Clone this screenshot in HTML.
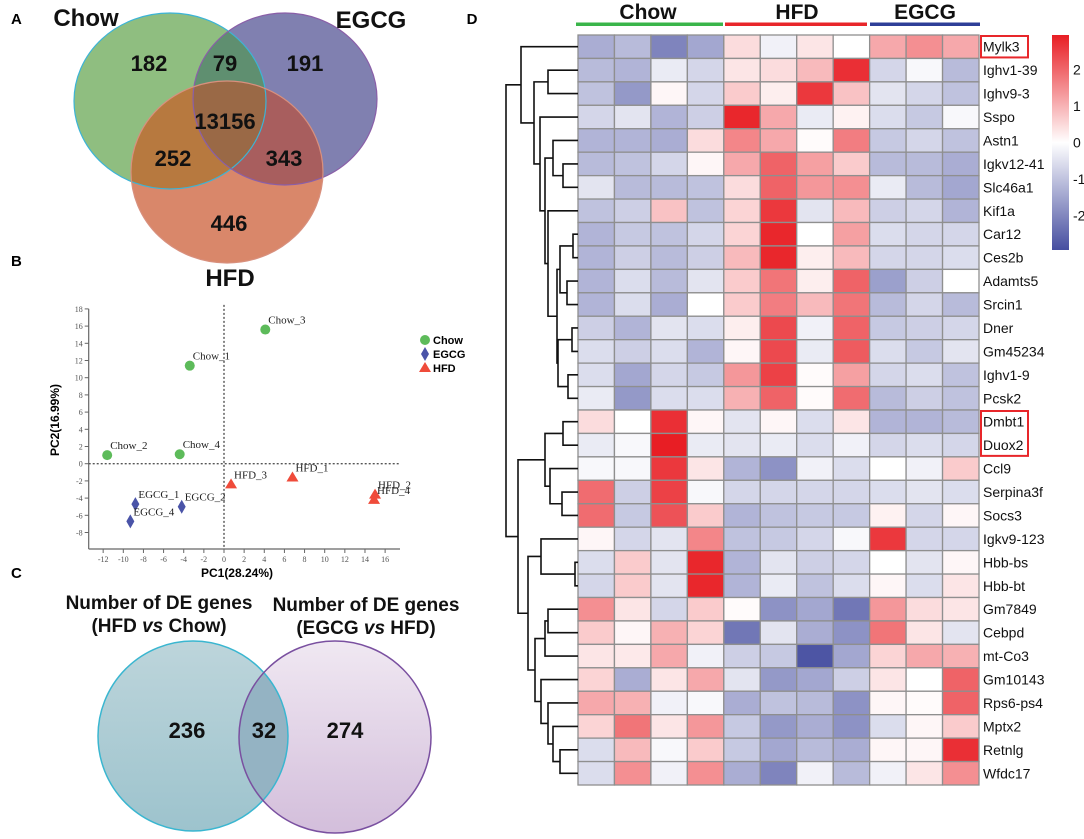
<!DOCTYPE html>
<html><head><meta charset="utf-8"><style>
html,body{margin:0;padding:0;background:#fff;width:1084px;height:839px;overflow:hidden}
svg{display:block}
text{font-family:"Liberation Sans",sans-serif}
.ser{font-family:"Liberation Serif",serif}
</style></head><body>
<svg id="fig" width="1084" height="839" viewBox="0 0 1084 839" xmlns="http://www.w3.org/2000/svg">
<defs>
<clipPath id="cChow"><ellipse cx="170" cy="101" rx="96" ry="88"/></clipPath>
<clipPath id="cEgcg"><ellipse cx="285" cy="99" rx="92" ry="86"/></clipPath>
<clipPath id="cHfd"><ellipse cx="227" cy="172" rx="96" ry="91"/></clipPath>
<clipPath id="cC1"><circle cx="193" cy="736" r="95"/></clipPath>
<linearGradient id="g1" x1="0" y1="0" x2="0" y2="1"><stop offset="0" stop-color="#BDD5DB"/><stop offset="1" stop-color="#9DC3CD"/></linearGradient>
<linearGradient id="g2" x1="0" y1="0" x2="0" y2="1"><stop offset="0" stop-color="#F0E8F2"/><stop offset="1" stop-color="#D3BEDB"/></linearGradient>
<linearGradient id="cbar" x1="0" y1="0" x2="0" y2="1"><stop offset="0" stop-color="#E81E24"/><stop offset="0.5" stop-color="#FFFFFF"/><stop offset="1" stop-color="#464EA0"/></linearGradient>
</defs>

<!-- Panel A -->
<g>
<text x="11" y="24" font-size="15" font-weight="bold">A</text>
<ellipse cx="170" cy="101" rx="96" ry="88" fill="#8FBE80"/>
<ellipse cx="285" cy="99" rx="92" ry="86" fill="#8080B0"/>
<ellipse cx="227" cy="172" rx="96" ry="91" fill="#D9876A"/>
<ellipse cx="285" cy="99" rx="92" ry="86" fill="#5F8F70" clip-path="url(#cChow)"/>
<ellipse cx="227" cy="172" rx="96" ry="91" fill="#B7793F" clip-path="url(#cChow)"/>
<ellipse cx="227" cy="172" rx="96" ry="91" fill="#A85E5E" clip-path="url(#cEgcg)"/>
<g clip-path="url(#cChow)"><ellipse cx="227" cy="172" rx="96" ry="91" fill="#9A6946" clip-path="url(#cEgcg)"/></g>
<ellipse cx="170" cy="101" rx="96" ry="88" fill="none" stroke="#3CB4D6" stroke-width="1.2"/>
<ellipse cx="285" cy="99" rx="92" ry="86" fill="none" stroke="#8A5FA8" stroke-width="1.2"/>
<ellipse cx="227" cy="172" rx="96" ry="91" fill="none" stroke="#D8907E" stroke-width="1.2"/>
<g font-size="22" font-weight="bold" text-anchor="middle" fill="#111">
<text x="86" y="26" font-size="24">Chow</text>
<text x="371" y="28" font-size="24">EGCG</text>
<text x="230" y="286" font-size="24">HFD</text>
<text x="149" y="71">182</text>
<text x="225" y="71">79</text>
<text x="305" y="71">191</text>
<text x="225" y="129">13156</text>
<text x="173" y="166">252</text>
<text x="284" y="166">343</text>
<text x="229" y="231">446</text>
</g>
</g>

<!-- Panel B -->
<g id="pca">
<text x="11" y="266" font-size="15" font-weight="bold">B</text>
</g>

<!-- Panel C -->
<g>
<text x="11" y="578" font-size="15" font-weight="bold">C</text>
<g font-size="19" font-weight="bold" text-anchor="middle" fill="#111">
<text x="159" y="609">Number of DE genes</text>
<text x="159" y="632">(HFD <tspan font-style="italic">vs</tspan> Chow)</text>
<text x="366" y="611">Number of DE genes</text>
<text x="366" y="634">(EGCG <tspan font-style="italic">vs</tspan> HFD)</text>
</g>
<circle cx="193" cy="736" r="95" fill="url(#g1)"/>
<circle cx="335" cy="737" r="96" fill="url(#g2)"/>
<circle cx="335" cy="737" r="96" fill="#94B3C3" clip-path="url(#cC1)"/>
<circle cx="193" cy="736" r="95" fill="none" stroke="#3AB6D0" stroke-width="1.5"/>
<circle cx="335" cy="737" r="96" fill="none" stroke="#7A50A0" stroke-width="1.5"/>
<g font-size="22" font-weight="bold" text-anchor="middle" fill="#111">
<text x="187" y="738">236</text>
<text x="264" y="738">32</text>
<text x="345" y="738">274</text>
</g>
</g>

<!-- Panel D -->
<g id="heat">
<text x="472" y="24" font-size="15" font-weight="bold" text-anchor="middle">D</text>
<g font-size="21" font-weight="bold" text-anchor="middle" fill="#111">
<text x="648" y="19">Chow</text>
<text x="797" y="19">HFD</text>
<text x="925" y="19">EGCG</text>
</g>
<rect x="576" y="22.5" width="147" height="3.5" fill="#3AB54A"/>
<rect x="725" y="22.5" width="142" height="3.5" fill="#E8262A"/>
<rect x="870" y="22.5" width="110" height="3.5" fill="#2E3F98"/>
<rect x="1052" y="35" width="17" height="215" fill="url(#cbar)"/>
</g>
</svg>
<script>
const NS="http://www.w3.org/2000/svg";
// ---- PCA data ----
const pcaLabels=["Chow_1","Chow_2","Chow_3","Chow_4","EGCG_1","EGCG_2","EGCG_4","HFD_1","HFD_2","HFD_3","HFD_4"];
const pcaGroup=["Chow","Chow","Chow","Chow","EGCG","EGCG","EGCG","HFD","HFD","HFD","HFD"];
const pc1=[-3.4,-11.6,4.1,-4.4,-8.8,-4.2,-9.3,6.8,15.0,0.7,14.9];
const pc2=[11.4,1.0,15.6,1.1,-4.7,-5.0,-6.7,-1.6,-3.6,-2.4,-4.2];
const xTicks=[-12,-10,-8,-6,-4,-2,0,2,4,6,8,10,12,14,16];
const yTicks=[-8,-6,-4,-2,0,2,4,6,8,10,12,14,16,18];
// ---- heatmap data ----
const genes=["Mylk3","Ighv1-39","Ighv9-3","Sspo","Astn1","Igkv12-41","Slc46a1","Kif1a","Car12","Ces2b","Adamts5","Srcin1","Dner","Gm45234","Ighv1-9","Pcsk2","Dmbt1","Duox2","Ccl9","Serpina3f","Socs3","Igkv9-123","Hbb-bs","Hbb-bt","Gm7849","Cebpd","mt-Co3","Gm10143","Rps6-ps4","Mptx2","Retnlg","Wfdc17"];
const samples=["Chow1","Chow2","Chow3","Chow4","HFD1","HFD2","HFD3","HFD4","EGCG1","EGCG2","EGCG3"];
const zRows=[
[-1.2,-1,-1.8,-1.3,0.4,-0.2,0.3,0,1.0,1.3,1.0],
[-1,-1.1,-0.3,-0.6,0.3,0.4,0.8,2.4,-0.6,-0.1,-1],
[-0.9,-1.5,0.1,-0.6,0.6,0.2,2.3,0.7,-0.4,-0.6,-0.9],
[-0.6,-0.4,-1.1,-0.7,2.5,1.0,-0.3,0.15,-0.5,-0.8,-0.1],
[-1.1,-1.1,-1.2,0.4,1.4,1.0,0.05,1.5,-0.8,-0.6,-0.9],
[-1,-0.9,-0.6,0.1,1.0,1.8,1.1,0.6,-1.0,-1.0,-1.2],
[-0.4,-1,-1,-0.9,0.4,1.8,1.2,1.3,-0.3,-1,-1.3],
[-0.9,-0.7,0.7,-0.9,0.5,2.3,-0.4,0.8,-0.7,-0.6,-1.1],
[-1.1,-0.8,-0.9,-0.6,0.5,2.5,0.0,1.1,-0.5,-0.6,-0.6],
[-1.1,-0.7,-1.0,-0.7,0.8,2.5,0.2,0.8,-0.6,-0.6,-0.5],
[-1.1,-0.5,-1.0,-0.4,0.6,1.6,0.2,1.8,-1.4,-0.7,0.0],
[-1.1,-0.5,-1.2,0.0,0.6,1.5,0.8,1.6,-1.0,-0.6,-1.0],
[-0.7,-1.1,-0.4,-0.5,0.2,2.1,-0.2,1.8,-0.8,-0.7,-0.6],
[-0.5,-0.7,-0.5,-1.1,0.1,2.1,-0.3,1.9,-0.5,-0.8,-0.4],
[-0.5,-1.3,-0.6,-0.8,1.2,2.2,0.05,1.1,-0.6,-0.5,-0.9],
[-0.3,-1.5,-0.5,-0.5,0.9,1.8,0.05,1.7,-1.0,-0.7,-0.9],
[0.4,0.0,2.4,0.1,-0.4,0.1,-0.5,0.3,-1.1,-1.1,-1.0],
[-0.3,-0.1,2.6,-0.3,-0.4,-0.3,-0.5,-0.2,-0.6,-0.5,-0.6],
[-0.1,-0.1,2.3,0.3,-1.1,-1.6,-0.2,-0.5,0,-0.2,0.6],
[1.7,-0.7,2.2,-0.1,-0.6,-0.6,-0.6,-0.6,-0.5,-0.4,-0.5],
[1.7,-0.8,2.0,0.6,-1.1,-0.9,-0.8,-0.8,0.15,-0.6,0.1],
[0.1,-0.6,-0.4,1.4,-0.9,-0.8,-0.6,-0.1,2.3,-0.6,-0.6],
[-0.5,0.6,-0.4,2.5,-1.1,-0.4,-0.7,-0.6,0.0,-0.4,0.1],
[-0.6,0.6,-0.4,2.5,-1.1,-0.3,-0.9,-0.5,0.1,-0.5,0.3],
[1.3,0.3,-0.6,0.6,0.05,-1.6,-1.3,-2.0,1.2,0.4,0.3],
[0.6,0.1,0.9,0.5,-2.0,-0.4,-1.2,-1.6,1.6,0.3,-0.4],
[0.3,0.25,1.0,-0.2,-0.7,-0.8,-2.5,-1.3,0.5,1.0,0.9],
[0.5,-1.2,0.3,1.0,-0.4,-1.5,-1.3,-0.7,0.3,0.0,1.8],
[1.0,0.9,-0.2,-0.1,-1.2,-0.9,-1.0,-1.6,0.1,0.05,1.8],
[0.5,1.6,0.3,1.2,-0.8,-1.5,-1.2,-1.6,-0.5,0.1,0.6],
[-0.5,0.8,-0.1,0.6,-0.8,-1.3,-1.0,-1.2,0.1,0.1,2.4],
[-0.5,1.3,-0.2,1.3,-1.2,-1.8,-0.2,-1.0,-0.2,0.3,1.3]];
const scaleTicks=[2,1,0,-1,-2];
const highlighted=["Mylk3","Dmbt1","Duox2"];
// dendrogram: [height, left, right]; leaves are row indices
const tree=[72,
 [57,0,[44,[30,1,2],[38,3,[33,[25,4,[15,5,6]],[30,7,[21,[18,[5,8,9],[11,10,11]],[20,[6,12,13],[10,14,15]]]]]]]],
 [60,[33,[15,16,17],[28,18,[16,19,20]]],[50,[37,21,[3,22,23]],[43,[33,[30,24,25],26],[37,27,[30,28,[25,29,[18,30,31]]]]]]]];

function mk(tag,attrs,parent){const e=document.createElementNS(NS,tag);for(const k in attrs)e.setAttribute(k,attrs[k]);parent.appendChild(e);return e;}

// ---- PCA ----
const pca=document.getElementById('pca');
const X0=224,XS=10.07,Y0=463.7,YS=8.6;
const sx=v=>X0+v*XS, sy=v=>Y0-v*YS;
const axL=88.7, axB=549;
mk('line',{x1:axL,y1:sy(18),x2:axL,y2:axB,stroke:'#666','stroke-width':1.2},pca);
mk('line',{x1:axL,y1:axB,x2:400,y2:axB,stroke:'#666','stroke-width':1.2},pca);
yTicks.forEach(t=>{
  mk('line',{x1:axL-4,y1:sy(t),x2:axL,y2:sy(t),stroke:'#666'},pca);
  const tx=mk('text',{x:axL-6,y:sy(t)+3,'font-size':8,'text-anchor':'end',fill:'#555',class:'ser'},pca);
  tx.textContent=t;
  
  
});
xTicks.forEach(t=>{
  mk('line',{x1:sx(t),y1:axB,x2:sx(t),y2:axB+4,stroke:'#666'},pca);
  const tx=mk('text',{x:sx(t),y:axB+13,'font-size':8,'text-anchor':'middle',fill:'#555',class:'ser'},pca);
  tx.textContent=t;
  
  
});
mk('line',{x1:sx(0),y1:sy(18)-4,x2:sx(0),y2:axB,stroke:'#555','stroke-width':1.4,'stroke-dasharray':'2,2'},pca);
mk('line',{x1:axL,y1:sy(0),x2:400,y2:sy(0),stroke:'#555','stroke-width':1.4,'stroke-dasharray':'2,2'},pca);
const xl=mk('text',{x:237,y:577,'font-size':12,'font-weight':'bold','text-anchor':'middle'},pca);xl.textContent='PC1(28.24%)';


const yl=mk('text',{x:59,y:420,'font-size':12,'font-weight':'bold','text-anchor':'middle',transform:'rotate(-90 59 420)'},pca);yl.textContent='PC2(16.99%)';


function marker(g,x,y,parent){
  if(g==='Chow')return mk('circle',{cx:x,cy:y,r:5,fill:'#5DBB5A'},parent);
  if(g==='EGCG')return mk('polygon',{points:`${x},${y-7} ${x+4},${y} ${x},${y+7} ${x-4},${y}`,fill:'#4A54A8'},parent);
  return mk('polygon',{points:`${x},${y-6} ${x+6},${y+4} ${x-6},${y+4}`,fill:'#EF4B3A'},parent);
}
pcaLabels.forEach((lab,i)=>{
  const x=sx(pc1[i]),y=sy(pc2[i]);
  const m=marker(pcaGroup[i],x,y,pca);
  
  
  const t=mk('text',{x:x+3,y:y-6,'font-size':11,class:'ser',fill:'#222'},pca);t.textContent=lab;
  
  
});
[['Chow',340],['EGCG',354],['HFD',368]].forEach(([g,y])=>{
  const m=marker(g,425,y,pca);
  
  
  const t=mk('text',{x:433,y:y+4,'font-size':11,'font-weight':'bold'},pca);t.textContent=g;
  
  
});

// ---- heatmap ----
const heat=document.getElementById('heat');
const HX=578,HY=35,HW=401,HH=750;
const cw=HW/samples.length, rh=HH/genes.length;
const colX=c=>HX+c*cw, rowY=r=>HY+r*rh;
function col(v){
  const t=Math.min(Math.abs(v)/2.6,1);
  const e=v>=0?[232,30,36]:[70,78,160];
  const m=[255,255,255].map((w,i)=>Math.round(w+(e[i]-w)*t));
  return `rgb(${m[0]},${m[1]},${m[2]})`;
}
zRows.forEach((row,r)=>{
  row.forEach((v,c)=>{
    const cell=mk('rect',{x:colX(c),y:rowY(r),width:cw,height:rh,fill:col(v),stroke:'#8f8f8f','stroke-width':1.3},heat);
    
    
  });
  const t=mk('text',{x:HX+HW+4,y:rowY(r)+rh/2+5,'font-size':14,fill:'#111'},heat);t.textContent=genes[r];
  
  
});
// highlight boxes
const hiIdx=highlighted.map(g=>genes.indexOf(g));
[[hiIdx[0],hiIdx[0]],[hiIdx[1],hiIdx[2]]].forEach(([a,b])=>{
  const bx=mk('rect',{x:HX+HW+2,y:rowY(a)+1,width:47,height:rowY(b+1)-rowY(a)-2,fill:'none',stroke:'#E8262A','stroke-width':2},heat);
  
  
});
// color scale labels
const cbTop=35,cbBot=250,cbMax=2.95,cbMin=-2.95;
const cy=v=>cbTop+(cbMax-v)/(cbMax-cbMin)*(cbBot-cbTop);
scaleTicks.forEach(v=>{
  const t=mk('text',{x:1073,y:cy(v)+5,'font-size':14,fill:'#111'},heat);t.textContent=v;
  
  
});
// dendrogram
const dg=mk('g',{stroke:'#111','stroke-width':1.6,fill:'none'},heat);


function draw(n){
  if(typeof n==='number')return {y:rowY(n)+rh/2,x:HX};
  const a=draw(n[1]),b=draw(n[2]);const x=HX-n[0];
  mk('path',{d:`M${a.x},${a.y}H${x}V${b.y}H${b.x}`},dg);
  return {y:(a.y+b.y)/2,x:x};
}
draw(tree);
</script>
</body></html>
